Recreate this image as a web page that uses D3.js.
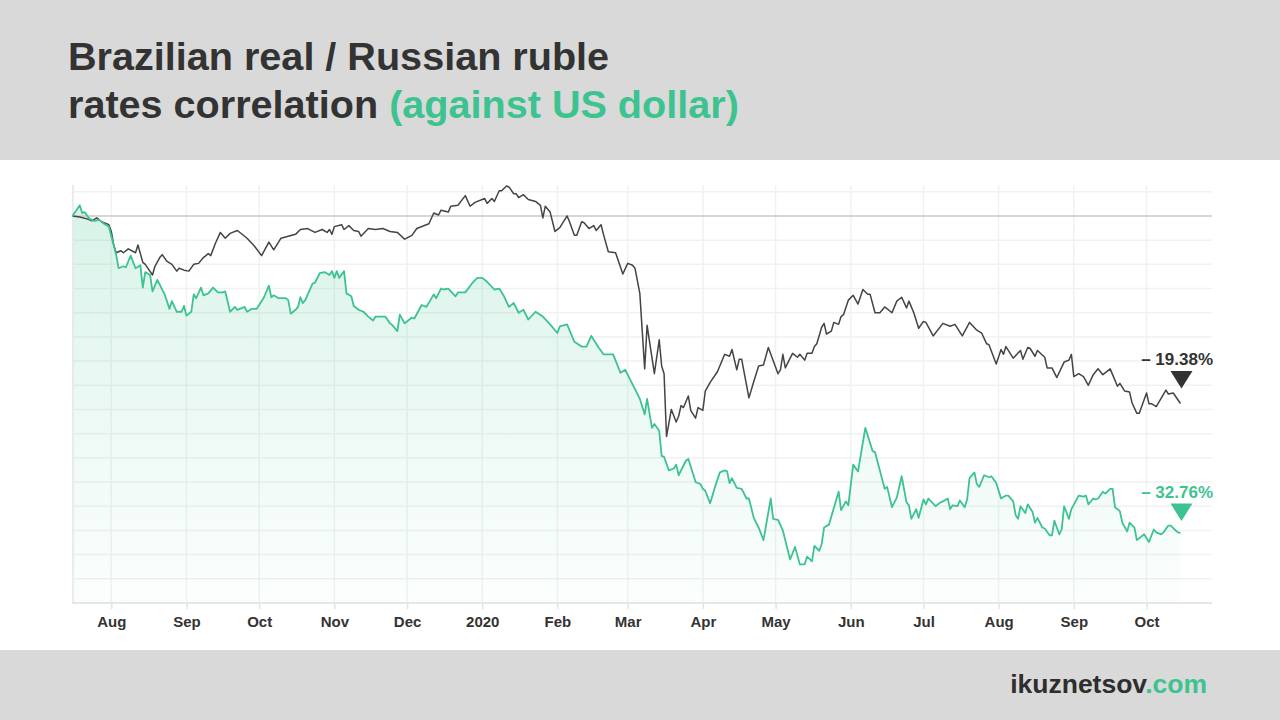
<!DOCTYPE html>
<html><head><meta charset="utf-8">
<script src="https://cdn.jsdelivr.net/npm/d3@7"></script>
<style>
body{margin:0;background:#fff}
svg{display:block;font-family:"Liberation Sans",Arial,Helvetica,sans-serif}
</style>
</head><body>
<svg id="chart" width="1280" height="720"></svg>
<script>
// ---- text ----
const titleLine1 = "Brazilian real / Russian ruble";
const titleLine2Dark = "rates correlation ";
const titleLine2Green = "(against US dollar)";
const siteName = "ikuznetsov";
const siteDomain = ".com";
const rubleLabel = "\u2013 19.38%";
const realLabel = "\u2013 32.76%";

// ---- axis settings ----
const xDomain = ["2019-07-16", "2020-10-28"];
const yDomain = [-40, 3.2];
const yGridValues = [-37.5, -35, -32.5, -30, -27.5, -25, -22.5, -20, -17.5, -15, -12.5, -10, -7.5, -5, -2.5, 2.5];

// ---- data: % change against US dollar since 16 Jul 2019 ----
// Russian ruble (dark line)
const rubleSeries = [["2019-07-16",0],["2019-07-19",-0.1],["2019-07-22",-0.3],["2019-07-24",-0.5],["2019-07-26",-0.2],["2019-07-28",-0.6],["2019-07-31",-0.9],["2019-08-01",-1.6],["2019-08-02",-3.0],["2019-08-03",-3.8],["2019-08-05",-3.6],["2019-08-06",-3.8],["2019-08-08",-3.4],["2019-08-11",-3.8],["2019-08-12",-3.0],["2019-08-14",-4.8],["2019-08-15",-5.0],["2019-08-18",-6.1],["2019-08-19",-5.2],["2019-08-21",-4.3],["2019-08-22",-4.0],["2019-08-24",-4.7],["2019-08-26",-5.0],["2019-08-28",-5.7],["2019-08-29",-5.4],["2019-08-31",-5.6],["2019-09-02",-5.7],["2019-09-04",-5.0],["2019-09-06",-4.9],["2019-09-08",-4.3],["2019-09-10",-3.9],["2019-09-11",-4.1],["2019-09-13",-2.8],["2019-09-15",-1.7],["2019-09-17",-2.3],["2019-09-19",-1.8],["2019-09-22",-1.5],["2019-09-25",-2.1],["2019-09-26",-2.3],["2019-09-29",-3.1],["2019-10-02",-4.1],["2019-10-05",-2.7],["2019-10-07",-3.5],["2019-10-10",-2.3],["2019-10-13",-2.1],["2019-10-16",-1.9],["2019-10-18",-1.4],["2019-10-21",-1.3],["2019-10-24",-1.7],["2019-10-27",-1.4],["2019-10-29",-1.7],["2019-10-30",-1.4],["2019-10-31",-1.9],["2019-11-01",-1.1],["2019-11-04",-0.9],["2019-11-05",-1.4],["2019-11-07",-1.0],["2019-11-09",-1.5],["2019-11-11",-1.6],["2019-11-12",-2.1],["2019-11-15",-1.3],["2019-11-18",-1.4],["2019-11-21",-1.3],["2019-11-24",-1.6],["2019-11-27",-1.7],["2019-11-30",-2.4],["2019-12-03",-2.0],["2019-12-05",-1.3],["2019-12-10",-0.8],["2019-12-12",0.3],["2019-12-14",0.1],["2019-12-15",0.6],["2019-12-18",0.4],["2019-12-19",1.0],["2019-12-22",1.1],["2019-12-25",2.1],["2019-12-27",1.0],["2019-12-29",1.4],["2020-01-02",1.8],["2020-01-03",1.3],["2020-01-05",1.8],["2020-01-06",1.5],["2020-01-08",2.6],["2020-01-09",2.6],["2020-01-11",3.1],["2020-01-12",3.0],["2020-01-14",2.3],["2020-01-15",2.3],["2020-01-16",1.9],["2020-01-18",2.2],["2020-01-20",1.7],["2020-01-23",1.5],["2020-01-25",1.1],["2020-01-26",-0.2],["2020-01-27",1.0],["2020-01-29",0.4],["2020-01-31",-1.6],["2020-02-02",-1.2],["2020-02-05",0.0],["2020-02-06",-0.6],["2020-02-08",-2.0],["2020-02-09",-2.0],["2020-02-11",-0.6],["2020-02-12",-0.7],["2020-02-14",-1.3],["2020-02-16",-1.0],["2020-02-17",-1.5],["2020-02-19",-0.9],["2020-02-20",-1.9],["2020-02-22",-3.7],["2020-02-25",-3.8],["2020-02-28",-6.0],["2020-03-01",-4.9],["2020-03-03",-5.1],["2020-03-04",-5.4],["2020-03-06",-8.0],["2020-03-08",-15.8],["2020-03-09",-11.3],["2020-03-12",-16.3],["2020-03-14",-12.8],["2020-03-15",-15.5],["2020-03-16",-16.3],["2020-03-17",-22.8],["2020-03-19",-20.0],["2020-03-21",-21.3],["2020-03-22",-20.7],["2020-03-23",-19.6],["2020-03-24",-19.8],["2020-03-26",-18.6],["2020-03-27",-20.1],["2020-03-29",-20.9],["2020-03-30",-19.8],["2020-04-01",-20.1],["2020-04-02",-18.1],["2020-04-04",-17.2],["2020-04-07",-16.1],["2020-04-10",-14.3],["2020-04-12",-14.5],["2020-04-13",-13.8],["2020-04-15",-15.9],["2020-04-16",-14.8],["2020-04-17",-14.8],["2020-04-20",-18.8],["2020-04-22",-17.1],["2020-04-24",-15.5],["2020-04-26",-15.4],["2020-04-28",-13.6],["2020-05-02",-16.3],["2020-05-03",-15.9],["2020-05-04",-14.3],["2020-05-05",-15.7],["2020-05-07",-14.7],["2020-05-08",-14.2],["2020-05-10",-14.6],["2020-05-11",-14.3],["2020-05-13",-14.9],["2020-05-14",-14.2],["2020-05-16",-14.2],["2020-05-17",-13.5],["2020-05-18",-13.2],["2020-05-20",-11.5],["2020-05-21",-11.1],["2020-05-22",-12.2],["2020-05-24",-11.9],["2020-05-25",-11.0],["2020-05-27",-11.2],["2020-05-28",-10.4],["2020-05-29",-10.2],["2020-05-31",-8.7],["2020-06-02",-8.2],["2020-06-04",-9.1],["2020-06-06",-7.6],["2020-06-08",-8.1],["2020-06-09",-8.1],["2020-06-11",-10.0],["2020-06-13",-10.0],["2020-06-15",-9.4],["2020-06-18",-10.0],["2020-06-20",-8.8],["2020-06-22",-8.4],["2020-06-24",-9.5],["2020-06-25",-8.8],["2020-06-27",-10.0],["2020-06-29",-11.6],["2020-07-01",-10.9],["2020-07-02",-11.0],["2020-07-05",-12.4],["2020-07-09",-11.1],["2020-07-12",-11.4],["2020-07-14",-11.2],["2020-07-17",-12.4],["2020-07-20",-11.0],["2020-07-23",-11.8],["2020-07-25",-12.1],["2020-07-27",-13.2],["2020-07-28",-13.3],["2020-07-31",-15.3],["2020-08-02",-13.8],["2020-08-03",-14.3],["2020-08-04",-13.5],["2020-08-07",-14.7],["2020-08-10",-13.9],["2020-08-11",-14.8],["2020-08-13",-13.6],["2020-08-14",-13.7],["2020-08-16",-14.5],["2020-08-17",-13.9],["2020-08-20",-14.6],["2020-08-21",-15.7],["2020-08-23",-15.7],["2020-08-25",-16.7],["2020-08-28",-15.1],["2020-08-30",-14.9],["2020-08-31",-14.3],["2020-09-01",-16.6],["2020-09-03",-16.3],["2020-09-05",-16.6],["2020-09-07",-17.5],["2020-09-09",-16.4],["2020-09-11",-15.8],["2020-09-13",-16.4],["2020-09-16",-15.8],["2020-09-17",-16.4],["2020-09-19",-17.6],["2020-09-20",-17.3],["2020-09-22",-18.1],["2020-09-24",-18.2],["2020-09-25",-19.3],["2020-09-27",-20.4],["2020-09-28",-20.4],["2020-09-30",-19.0],["2020-10-01",-18.3],["2020-10-02",-19.4],["2020-10-03",-19.4],["2020-10-05",-19.7],["2020-10-09",-18.0],["2020-10-10",-18.4],["2020-10-12",-18.3],["2020-10-15",-19.38]];

// Brazilian real (green line + area)
const realSeries = [["2019-07-16",0],["2019-07-19",1.1],["2019-07-20",0.3],["2019-07-21",0.4],["2019-07-23",-0.3],["2019-07-25",-0.5],["2019-07-27",-0.4],["2019-07-29",-0.8],["2019-07-31",-1.1],["2019-08-01",-2.1],["2019-08-03",-4.0],["2019-08-04",-5.4],["2019-08-06",-5.2],["2019-08-07",-5.3],["2019-08-09",-4.1],["2019-08-11",-5.4],["2019-08-13",-5.1],["2019-08-14",-7.4],["2019-08-15",-5.8],["2019-08-17",-6.1],["2019-08-18",-7.8],["2019-08-20",-6.6],["2019-08-23",-8.1],["2019-08-25",-9.6],["2019-08-26",-8.8],["2019-08-28",-9.9],["2019-08-30",-9.9],["2019-08-31",-9.3],["2019-09-01",-10.3],["2019-09-03",-9.9],["2019-09-04",-8.1],["2019-09-05",-8.5],["2019-09-07",-7.4],["2019-09-08",-8.2],["2019-09-10",-8.0],["2019-09-12",-7.4],["2019-09-14",-7.9],["2019-09-16",-7.9],["2019-09-17",-7.8],["2019-09-19",-9.9],["2019-09-21",-9.4],["2019-09-22",-9.7],["2019-09-25",-9.4],["2019-09-26",-9.9],["2019-09-28",-9.6],["2019-09-30",-9.6],["2019-10-03",-8.4],["2019-10-05",-7.2],["2019-10-06",-8.4],["2019-10-07",-8.2],["2019-10-09",-8.5],["2019-10-12",-8.5],["2019-10-13",-8.7],["2019-10-14",-10.1],["2019-10-16",-9.7],["2019-10-17",-9.4],["2019-10-18",-8.4],["2019-10-19",-9.0],["2019-10-20",-8.7],["2019-10-23",-7.0],["2019-10-24",-6.9],["2019-10-26",-5.9],["2019-10-28",-5.8],["2019-10-30",-6.1],["2019-10-31",-5.7],["2019-11-01",-6.4],["2019-11-02",-5.7],["2019-11-03",-6.4],["2019-11-05",-5.7],["2019-11-06",-8.0],["2019-11-08",-8.3],["2019-11-09",-9.3],["2019-11-11",-9.7],["2019-11-13",-9.9],["2019-11-15",-10.4],["2019-11-17",-10.8],["2019-11-18",-10.4],["2019-11-22",-10.4],["2019-11-24",-11.1],["2019-11-25",-11.3],["2019-11-27",-11.9],["2019-11-28",-10.2],["2019-11-30",-11.1],["2019-12-03",-10.5],["2019-12-04",-10.6],["2019-12-07",-9.2],["2019-12-09",-9.4],["2019-12-12",-8.1],["2019-12-13",-8.5],["2019-12-15",-7.5],["2019-12-16",-7.6],["2019-12-18",-7.5],["2019-12-21",-8.3],["2019-12-22",-7.9],["2019-12-25",-7.9],["2019-12-28",-6.9],["2019-12-30",-6.4],["2020-01-01",-6.4],["2020-01-03",-6.8],["2020-01-06",-7.6],["2020-01-08",-7.5],["2020-01-10",-8.3],["2020-01-12",-9.4],["2020-01-14",-9.0],["2020-01-16",-10.0],["2020-01-18",-9.7],["2020-01-20",-10.7],["2020-01-23",-9.9],["2020-01-26",-10.4],["2020-01-29",-11.2],["2020-02-01",-12.1],["2020-02-02",-11.4],["2020-02-05",-11.2],["2020-02-08",-13.0],["2020-02-11",-13.5],["2020-02-13",-13.5],["2020-02-15",-12.4],["2020-02-18",-13.6],["2020-02-20",-14.3],["2020-02-24",-14.3],["2020-02-27",-16.2],["2020-02-29",-15.9],["2020-03-04",-17.9],["2020-03-06",-18.9],["2020-03-08",-20.5],["2020-03-09",-18.9],["2020-03-11",-21.9],["2020-03-12",-21.5],["2020-03-14",-22.2],["2020-03-15",-24.8],["2020-03-16",-24.9],["2020-03-18",-26.3],["2020-03-20",-26.1],["2020-03-21",-25.7],["2020-03-22",-26.8],["2020-03-25",-25.3],["2020-03-26",-25.1],["2020-03-29",-27.5],["2020-03-31",-27.7],["2020-04-01",-28.2],["2020-04-02",-28.4],["2020-04-04",-29.7],["2020-04-06",-28.0],["2020-04-08",-26.5],["2020-04-10",-26.3],["2020-04-11",-26.4],["2020-04-12",-27.6],["2020-04-13",-27.1],["2020-04-15",-28.1],["2020-04-17",-28.2],["2020-04-19",-29.2],["2020-04-20",-29.2],["2020-04-22",-31.2],["2020-04-24",-32.2],["2020-04-26",-33.5],["2020-04-29",-29.2],["2020-04-30",-31.3],["2020-05-02",-31.4],["2020-05-04",-32.5],["2020-05-07",-35.5],["2020-05-09",-34.2],["2020-05-11",-36.0],["2020-05-13",-36.0],["2020-05-14",-35.2],["2020-05-16",-35.7],["2020-05-17",-34.1],["2020-05-19",-34.6],["2020-05-20",-33.9],["2020-05-21",-32.2],["2020-05-23",-31.9],["2020-05-27",-28.5],["2020-05-28",-30.4],["2020-05-30",-29.5],["2020-05-31",-29.9],["2020-06-02",-25.7],["2020-06-04",-26.4],["2020-06-07",-21.9],["2020-06-10",-24.3],["2020-06-11",-24.4],["2020-06-15",-28.2],["2020-06-16",-28.0],["2020-06-18",-30.1],["2020-06-20",-29.1],["2020-06-22",-26.9],["2020-06-24",-29.6],["2020-06-25",-29.9],["2020-06-26",-31.3],["2020-06-28",-30.3],["2020-06-29",-31.2],["2020-07-01",-29.3],["2020-07-02",-29.8],["2020-07-03",-29.2],["2020-07-06",-30.0],["2020-07-08",-29.6],["2020-07-09",-29.5],["2020-07-11",-29.2],["2020-07-12",-30.3],["2020-07-13",-29.9],["2020-07-15",-30.0],["2020-07-16",-29.4],["2020-07-18",-30.1],["2020-07-19",-29.3],["2020-07-20",-27.1],["2020-07-22",-26.5],["2020-07-23",-27.7],["2020-07-24",-28.0],["2020-07-26",-26.8],["2020-07-28",-27.0],["2020-07-29",-26.9],["2020-07-31",-27.6],["2020-08-02",-29.2],["2020-08-04",-28.9],["2020-08-05",-28.9],["2020-08-07",-29.5],["2020-08-08",-30.9],["2020-08-09",-31.3],["2020-08-10",-30.0],["2020-08-12",-30.7],["2020-08-13",-29.8],["2020-08-15",-30.6],["2020-08-16",-31.7],["2020-08-17",-31.2],["2020-08-19",-32.2],["2020-08-20",-32.3],["2020-08-22",-33.0],["2020-08-23",-33.0],["2020-08-24",-31.5],["2020-08-26",-32.9],["2020-08-27",-32.4],["2020-08-28",-30.0],["2020-08-30",-31.3],["2020-08-31",-30.3],["2020-09-03",-28.9],["2020-09-05",-29.0],["2020-09-06",-28.9],["2020-09-07",-29.8],["2020-09-09",-29.2],["2020-09-10",-29.3],["2020-09-11",-29.2],["2020-09-13",-28.5],["2020-09-14",-28.7],["2020-09-16",-28.2],["2020-09-17",-28.2],["2020-09-18",-30.1],["2020-09-20",-30.5],["2020-09-21",-31.7],["2020-09-23",-32.6],["2020-09-24",-31.7],["2020-09-26",-32.2],["2020-09-27",-33.5],["2020-09-29",-33.1],["2020-09-30",-32.9],["2020-10-02",-33.7],["2020-10-04",-32.4],["2020-10-05",-32.7],["2020-10-07",-32.9],["2020-10-08",-32.7],["2020-10-10",-32.0],["2020-10-11",-32.0],["2020-10-13",-32.5],["2020-10-14",-32.7],["2020-10-15",-32.76]];

// ---- colours ----
const GREEN = "#3cc38f";
const DARK = "#333333";
const BAND = "#d9d9d9";

// ---- drawing ----
const parse = d3.timeParse("%Y-%m-%d");
const ruble = rubleSeries.map(d => ({date: parse(d[0]), value: d[1]}));
const real = realSeries.map(d => ({date: parse(d[0]), value: d[1]}));

const plot = {left: 73, right: 1212, top: 185, bottom: 603};
const x = d3.scaleTime().domain(xDomain.map(parse)).range([72.5, plot.right]);
const y = d3.scaleLinear().domain(yDomain).range([plot.bottom, plot.top]);

const svg = d3.select("#chart");

// background bands
svg.append("rect").attr("x", 0).attr("y", 0).attr("width", 1280).attr("height", 720).attr("fill", "#fff");
svg.append("rect").attr("x", 0).attr("y", 0).attr("width", 1280).attr("height", 160).attr("fill", BAND);
svg.append("rect").attr("x", 0).attr("y", 650).attr("width", 1280).attr("height", 70).attr("fill", BAND);

// title
svg.append("text").attr("x", 68).attr("y", 70)
  .attr("font-size", 39.6).attr("font-weight", "bold").attr("fill", DARK).text(titleLine1);
const t2 = svg.append("text").attr("x", 68).attr("y", 118)
  .attr("font-size", 39.6).attr("font-weight", "bold").attr("fill", DARK);
t2.append("tspan").text(titleLine2Dark);
t2.append("tspan").attr("fill", GREEN).text(titleLine2Green);

// footer
const ft = svg.append("text").attr("x", 1207).attr("y", 693).attr("text-anchor", "end")
  .attr("font-size", 26.5).attr("font-weight", "bold").attr("fill", "#2e2e2e");
ft.append("tspan").text(siteName);
ft.append("tspan").attr("fill", GREEN).text(siteDomain);

// defs: gradient for the area
const defs = svg.append("defs");
const grad = defs.append("linearGradient").attr("id", "areaGrad")
  .attr("gradientUnits", "userSpaceOnUse").attr("x1", 0).attr("y1", 205).attr("x2", 0).attr("y2", plot.bottom);
grad.append("stop").attr("offset", 0).attr("stop-color", GREEN).attr("stop-opacity", 0.2);
grad.append("stop").attr("offset", 0.55).attr("stop-color", GREEN).attr("stop-opacity", 0.09);
grad.append("stop").attr("offset", 1).attr("stop-color", GREEN).attr("stop-opacity", 0.02);

// horizontal grid
const gGrid = svg.append("g");
gGrid.selectAll("line.h").data(yGridValues).join("line")
  .attr("x1", plot.left).attr("x2", plot.right)
  .attr("y1", d => y(d)).attr("y2", d => y(d))
  .attr("stroke", "#f1f1f1").attr("stroke-width", 1.5);

// vertical grid at month ticks
const monthTicks = x.ticks(d3.timeMonth.every(1));
gGrid.selectAll("line.v").data(monthTicks).join("line")
  .attr("x1", d => x(d)).attr("x2", d => x(d))
  .attr("y1", plot.top).attr("y2", plot.bottom)
  .attr("stroke", "#eff2f1").attr("stroke-width", 1.5);

// area
const area = d3.area().x(d => x(d.date)).y0(y(yDomain[0])).y1(d => y(d.value));
svg.append("path").datum(real).attr("d", area).attr("fill", "url(#areaGrad)");

// left boundary
svg.append("line").attr("x1", plot.left).attr("x2", plot.left).attr("y1", plot.top).attr("y2", plot.bottom)
  .attr("stroke", "#e6e6e6").attr("stroke-width", 1.5);

// x axis
const xAxis = d3.axisBottom(x).tickValues(monthTicks).tickSize(6).tickPadding(7)
  .tickFormat(d => d.getMonth() === 0 ? d3.timeFormat("%Y")(d) : d3.timeFormat("%b")(d));
const gx = svg.append("g").attr("transform", `translate(0,${plot.bottom})`).call(xAxis);
gx.select(".domain").remove();
gx.selectAll(".tick line").attr("stroke", "#e3e3e3").attr("stroke-width", 1.5);
gx.selectAll(".tick text").attr("fill", DARK).attr("font-size", 15).attr("font-weight", "bold")
  .attr("font-family", "'Liberation Sans', Arial, sans-serif");
svg.append("line").attr("x1", plot.left - 1).attr("x2", plot.right).attr("y1", plot.bottom).attr("y2", plot.bottom)
  .attr("stroke", "#e6e6e6").attr("stroke-width", 2);

// zero reference line
svg.append("line").attr("x1", plot.left).attr("x2", plot.right).attr("y1", y(0)).attr("y2", y(0))
  .attr("stroke", "#c9c9c9").attr("stroke-width", 1.6);

// lines
const line = d3.line().x(d => x(d.date)).y(d => y(d.value));
svg.append("path").datum(ruble).attr("d", line).attr("fill", "none")
  .attr("stroke", "#444444").attr("stroke-width", 1.5).attr("stroke-linejoin", "round");
svg.append("path").datum(real).attr("d", line).attr("fill", "none")
  .attr("stroke", GREEN).attr("stroke-width", 1.8).attr("stroke-linejoin", "round");

// end labels + triangles
function endMarker(series, label, color, textY, triTop) {
  const last = series[series.length - 1];
  const cx = x(last.date) + 1;
  svg.append("text").attr("x", 1213).attr("y", textY).attr("text-anchor", "end")
    .attr("font-size", 17).attr("font-weight", "bold").attr("fill", color).text(label);
  svg.append("path")
    .attr("d", `M${cx - 11},${triTop} L${cx + 11},${triTop} L${cx},${triTop + 17.5} Z`)
    .attr("fill", color);
}
endMarker(ruble, rubleLabel, DARK, 365, 371);
endMarker(real, realLabel, GREEN, 498, 503.5);
</script>
</body></html>
